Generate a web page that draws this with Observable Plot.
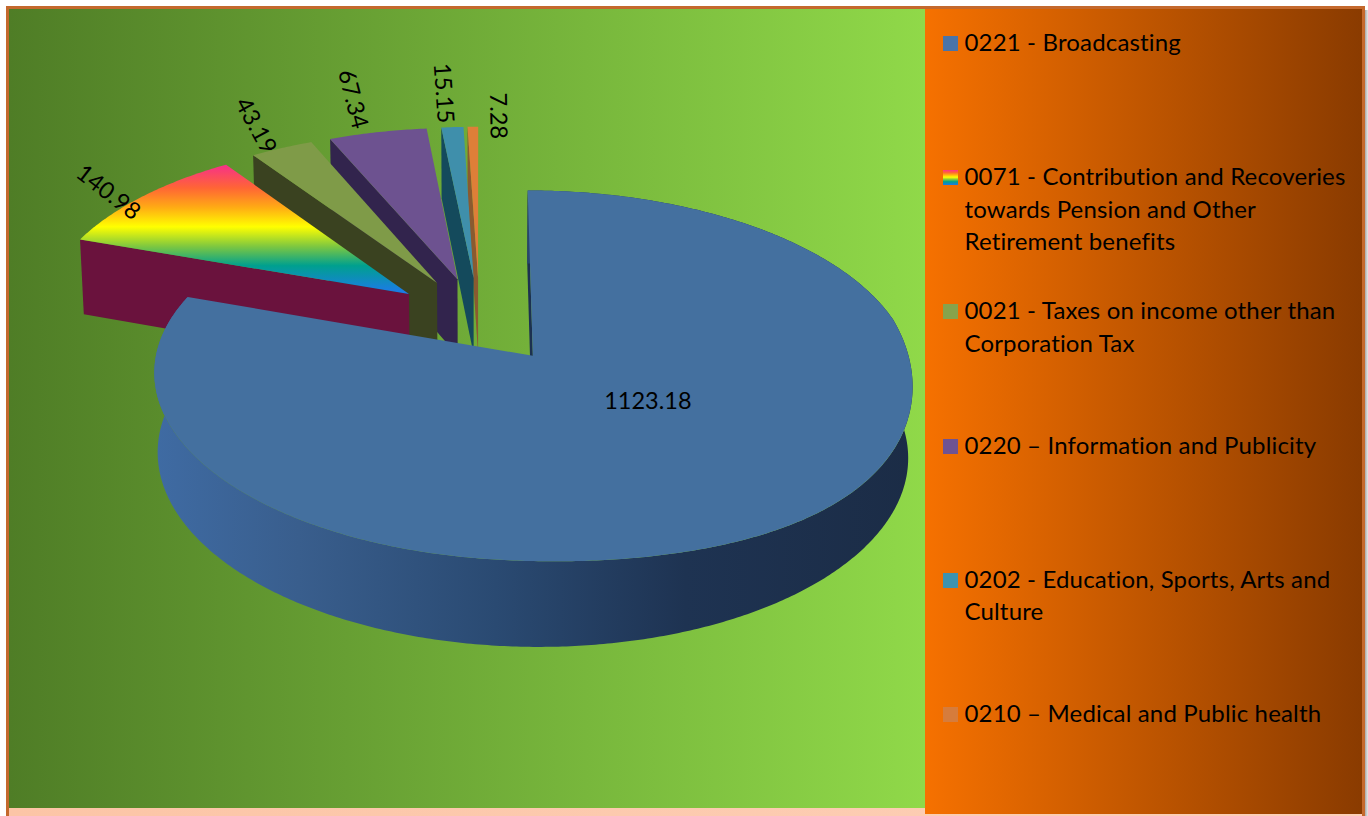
<!DOCTYPE html>
<html><head><meta charset="utf-8">
<script src="https://cdn.jsdelivr.net/npm/d3@7"></script>
<script src="https://cdn.jsdelivr.net/npm/@observablehq/plot@0.6"></script>
<style>
html,body{margin:0;padding:0;background:#fff;width:1368px;height:816px;overflow:hidden;font-family:Lato,"Open Sans",sans-serif}
#frame{position:absolute;left:6px;top:6px;width:1359px;height:810px;box-sizing:border-box;border:3px solid #c4692d;border-bottom:none;background:linear-gradient(90deg,#fcc5a6,#fdd0b8)}
#shadow{position:absolute;left:1365px;top:10px;width:3px;height:806px;background:linear-gradient(90deg,#a9a9a9,#e8e8e8)}
#plotbg{position:absolute;left:9px;top:9px;width:916px;height:799px;background:linear-gradient(90deg,#4f7d26,#90d949)}
#legendbg{position:absolute;left:925px;top:9px;width:437px;height:805px;background:linear-gradient(90deg,#f67100,#8a3b00)}
#chart{position:absolute;left:0;top:0}
#legend{position:absolute;left:943px;top:26px;width:415px;color:#000;font-size:24px;line-height:32.4px;letter-spacing:.16px}
.row{height:134.2px;position:relative;padding-left:21.5px;box-sizing:border-box}
.sw{position:absolute;left:0;top:10px;width:15px;height:15px}
</style></head><body>
<div id="frame"></div><div id="shadow"></div><div id="plotbg"></div><div id="legendbg"></div>
<div id="chart"></div><div id="legend"></div>
<script>
const categories = [
  "0221 - Broadcasting",
  "0071 - Contribution and Recoveries towards Pension and Other Retirement benefits",
  "0021 - Taxes on income other than Corporation Tax",
  "0220 – Information and Publicity",
  "0202 - Education, Sports, Arts and Culture",
  "0210 – Medical and Public health"
];
const values = [1123.18, 140.98, 43.19, 67.34, 15.15, 7.28];
const valueLabels = ["1123.18", "140.98", "43.19", "67.34", "15.15", "7.28"];
const topColors = ["#44709f", "url(#rainbow)", "#7f9b48", "#6d5290", "#3f8fab", "#de7f38"];
const wallColors = ["#1c3150", "#6a123d", "#3a4220", "#32244d", "#144a5c", "#8a5a30"];
const swatchFills = ["#4a74a8", "linear-gradient(180deg,#ff2f8e,#ff6a30 18%,#ffb010 32%,#ffff00 48%,#80c840 63%,#00a090 78%,#1e78e8)", "#86a34c", "#6f5393", "#3e93b0", "#d67c3c"];
// screen nudges of the data labels relative to their slice rim (px)
const labelNudge = [[18,-21],[-34,-4],[-26,-22],[-25,-33],[-9,-34],[25,-11]];

// pseudo-3D camera
const cam = {cx:479, cy:319.4, R:369, ry:175.4, H:78.6, k:0.105, m:0.01, e:0.245, sag:20};
const proj = (u,v,z) => { const W = 1/(1-cam.k*v+cam.m*z); const up=Math.max(u,0);
  return {x:cam.cx+cam.R*u*W, y:cam.cy+(cam.ry*v+cam.H*z)*W + cam.sag*up*up*Math.max(v,0)*(1-z)}; };
const arcs = d3.pie().sort(null).startAngle(0).endAngle(2*Math.PI)(values);
const pt = (a,t,r,z) => { const mid=(a.startAngle+a.endAngle)/2;
  return proj(cam.e*Math.sin(mid)+r*Math.sin(t), -cam.e*Math.cos(mid)-r*Math.cos(t), z); };
const arcAngles = (a) => { const n=Math.max(2,Math.ceil((a.endAngle-a.startAngle)/0.01)); return d3.range(n+1).map(i=>a.startAngle+(a.endAngle-a.startAngle)*i/n); };
const topFace = a => [pt(a,0,0,0), ...arcAngles(a).map(t=>pt(a,t,1,0))];
const startWall = a => [pt(a,a.startAngle,0,0), pt(a,a.startAngle,1,0), pt(a,a.startAngle,1,1), pt(a,a.startAngle,0,1)];
const rimWall = a => { const ts=arcAngles(a); return [...ts.map(t=>pt(a,t,1,0)), ...ts.slice().reverse().map(t=>pt(a,t,1,1))]; };
const poly = (pts,fill) => Plot.line(pts,{x:"x",y:"y",fill,stroke:"none",curve:"linear"});

const defs = () => {
  const g = d3.create("svg:defs");
  const rb = g.append("linearGradient").attr("id","rainbow").attr("x1",0).attr("y1",0).attr("x2",0).attr("y2",1);
  [[0,"#f7308a"],[.18,"#ff6535"],[.33,"#ffab14"],[.48,"#ffff00"],[.63,"#7fc83f"],[.78,"#00a08e"],[1,"#1e78ee"]]
    .forEach(([o,c])=>rb.append("stop").attr("offset",o).attr("stop-color",c));
  const rm = g.append("linearGradient").attr("id","rim").attr("x1",0).attr("y1",0).attr("x2",1).attr("y2",0);
  [[0,"#3f6ba3"],[.19,"#395e8d"],[.45,"#2a4a72"],[.7,"#1e3352"],[1,"#1b2c46"]]
    .forEach(([o,c])=>rm.append("stop").attr("offset",o).attr("stop-color",c));
  return g.node();
};

const marks = [defs];
// back to front: thin exploded slices first, the large slice last
[5,4,3,2,1].forEach(i=>{ marks.push(poly(startWall(arcs[i]),wallColors[i]), poly(topFace(arcs[i]),topColors[i])); });
marks.push(poly(startWall(arcs[0]),wallColors[0]), poly(rimWall(arcs[0]),"url(#rim)"), poly(topFace(arcs[0]),topColors[0]));

const labels = arcs.map((a,i)=>{ const mid=(a.startAngle+a.endAngle)/2; const p=pt(a,mid,i===0?0.42:1,0);
  const deg = mid*180/Math.PI;
  return {x:p.x+labelNudge[i][0], y:p.y+labelNudge[i][1], text:valueLabels[i], rotate: i===0?0:deg-270};});
marks.push(Plot.text(labels,{x:"x",y:"y",text:"text",rotate:"rotate",fontSize:23.5,fontFamily:"Lato",fill:"#000"}));

const chart = Plot.plot({width:1368,height:816,margin:0,
  x:{domain:[0,1368],range:[0,1368],axis:null},
  y:{domain:[0,816],range:[0,816],axis:null},
  style:{background:"transparent"},
  marks});
document.getElementById("chart").append(chart);

const breaks = [["0221 - Broadcasting"],["0071 - Contribution and Recoveries","towards Pension and Other","Retirement benefits"],["0021 - Taxes on income other than","Corporation Tax"],["0220 – Information and Publicity"],["0202 - Education, Sports, Arts and","Culture"],["0210 – Medical and Public health"]];
const legend = d3.select("#legend");
categories.forEach((c,i)=>{
  const r = legend.append("div").attr("class","row");
  r.append("div").attr("class","sw").style("background",swatchFills[i]);
  breaks[i].forEach(l=>r.append("div").style("white-space","nowrap").text(l));
});
</script></body></html>
